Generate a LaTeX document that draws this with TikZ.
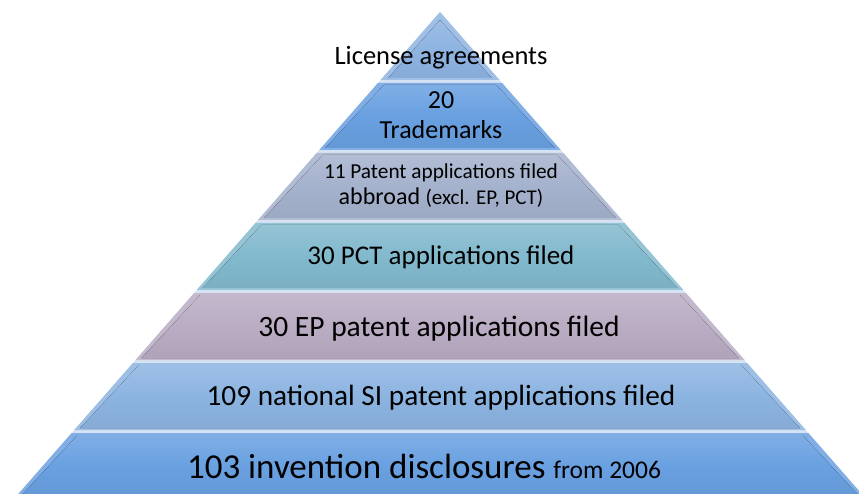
\documentclass[tikz,border=0pt]{standalone}
\usepackage{fontspec}
\setmainfont{Carlito}
\definecolor{cLic}{HTML}{8EB4E2}
\definecolor{cTm}{HTML}{69A0E1}
\definecolor{cAbr}{HTML}{A5B2CD}
\definecolor{cPct}{HTML}{82B9CD}
\definecolor{cEp}{HTML}{B9ACC3}
\definecolor{cNat}{HTML}{8CB4E1}
\definecolor{cInv}{HTML}{69A0E1}
\definecolor{cGap}{HTML}{D6E3F2}
\newcommand{\hw}[1]{0.875*(#1-12)}
\newcommand{\pyrband}[3]{%
  \fill[#3!85!white] ({440-\hw{#1}},#1) -- ({440+\hw{#1}},#1) -- ({440+\hw{#2}},#2) -- ({440-\hw{#2}},#2) -- cycle;
  \fill[top color=#3!85!white, bottom color=#3!95!black, middle color=#3]
    ({440-\hw{#1}+6},#1+2) -- ({440+\hw{#1}-6},#1+2) -- ({440+\hw{#2}-6},#2-2) -- ({440-\hw{#2}+6},#2-2) -- cycle;}
\tikzset{lbl/.style={anchor=base, inner sep=0pt, text=black}}
\begin{document}
\begin{tikzpicture}[x=1pt,y=-1pt]
\useasboundingbox (0,0) rectangle (859,494);
\begin{scope}
\clip (0,0) rectangle (859,494);
% gap colour under everything
\fill[cGap] (440,12) -- ({440+\hw{500}},500) -- ({440-\hw{500}},500) -- cycle;
% top triangle
\fill[cLic!85!white] (440,12) -- ({440+\hw{80}},80) -- ({440-\hw{80}},80) -- cycle;
\fill[top color=cLic!88!white, bottom color=cLic!95!black, middle color=cLic] (440,20) -- ({440+\hw{78}-6},78) -- ({440-\hw{78}+6},78) -- cycle;
\pyrband{83}{150}{cTm}
\pyrband{153}{220}{cAbr}
\pyrband{223}{290}{cPct}
\pyrband{293}{360}{cEp}
\pyrband{363}{430}{cNat}
\pyrband{433}{500}{cInv}
\end{scope}
\node[lbl, font=\fontsize{26.5}{30}\selectfont] (lic) at (441,65) {License agreements};
\node[lbl, font=\fontsize{26}{30}\selectfont] (tmn) at (441,109) {20};
\node[lbl, font=\fontsize{26}{30}\selectfont] (tm) at (441,139) {Trademarks};
\node[lbl, font=\fontsize{21.3}{25}\selectfont] (abr1) at (441,179) {11 Patent applications filed};
\node[lbl, font=\fontsize{24}{28}\selectfont] (abr2) at (441,205) {abbroad {\fontsize{21}{25}\selectfont (excl. EP, PCT)}};
\node[lbl, font=\fontsize{27}{31}\selectfont] (pct) at (441,265) {30 PCT applications filed};
\node[lbl, font=\fontsize{29.5}{33}\selectfont] (ep) at (439,336) {30 EP patent applications filed};
\node[lbl, font=\fontsize{29.3}{33}\selectfont] (nat) at (441,405) {109 national SI patent applications filed};
\node[lbl, font=\fontsize{35}{40}\selectfont] (inv) at (424,478) {103 invention disclosures {\fontsize{25.5}{30}\selectfont from 2006}};
\end{tikzpicture}
\end{document}
